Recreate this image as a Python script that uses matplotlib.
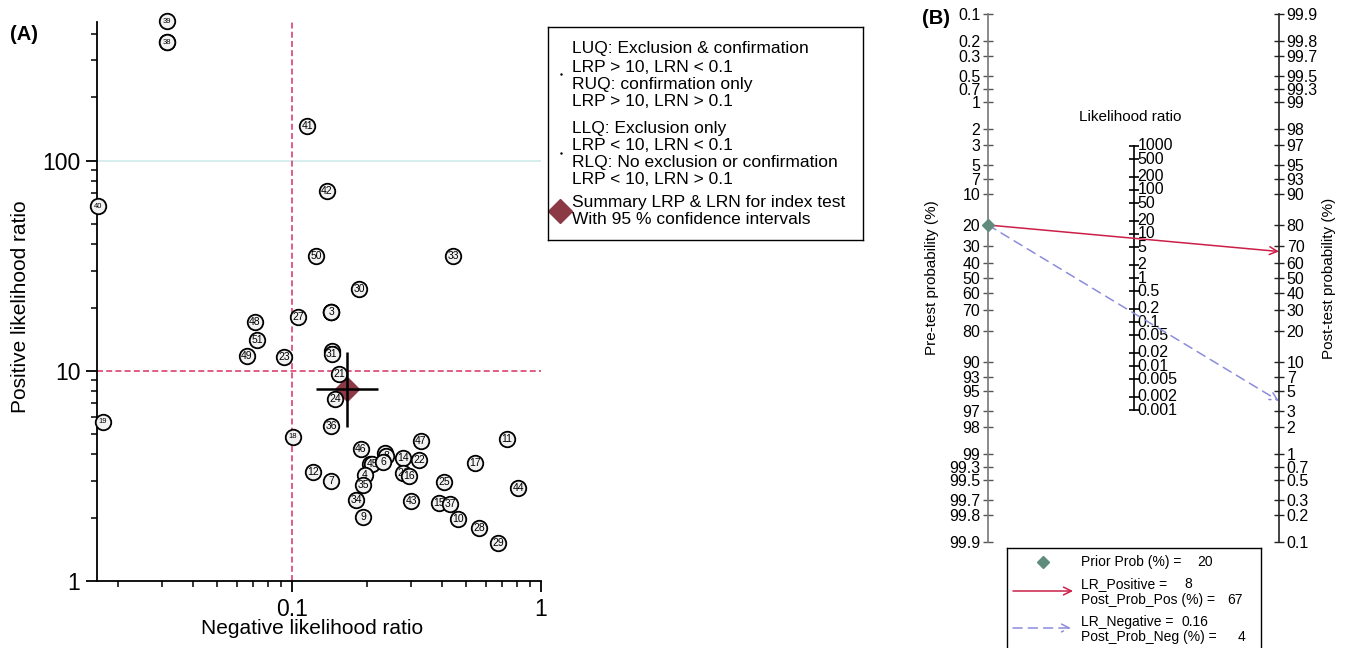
import numpy as np
import matplotlib
matplotlib.use('Agg')
import matplotlib.pyplot as plt
from matplotlib.ticker import FixedLocator, LogLocator, NullFormatter

plt.rcParams['font.family'] = ['Liberation Sans', 'DejaVu Sans']

# ---- (A) study-level likelihood ratios ----
study_id = [20, 38, 39, 40, 41, 42, 50, 33, 30, 1, 2, 3, 27, 48, 51, 49, 23,
            13, 31, 21, 24, 36, 18, 19, 46, 12, 7, 32, 45, 5, 8, 6, 4, 35,
            34, 9, 14, 47, 22, 26, 16, 43, 25, 15, 37, 10, 28, 29, 17, 11, 44]
lrn = [0.0315, 0.0315, 0.0315, 0.0166, 0.115, 0.138, 0.125, 0.443, 0.186,
       0.1435, 0.1435, 0.1435, 0.1057, 0.071, 0.0723, 0.066, 0.0929,
       0.1447, 0.1447, 0.1545, 0.149, 0.1435, 0.1009, 0.0174, 0.189, 0.1214,
       0.1435, 0.2057, 0.2096, 0.2363, 0.2385, 0.232, 0.1965, 0.1928,
       0.1807, 0.1928, 0.279, 0.3296, 0.3236, 0.279, 0.295, 0.3006, 0.4076,
       0.389, 0.431, 0.464, 0.5636, 0.672, 0.543, 0.730, 0.809]
lrp = [366, 366, 462, 60.8, 147, 71.6, 35.2, 35.2, 24.5,
       19.1, 19.1, 19.1, 18.05, 17.1, 14.0, 11.8, 11.65,
       12.45, 12.05, 9.68, 7.36, 5.48, 4.86, 5.73, 4.26, 3.31,
       3.0, 3.62, 3.62, 4.08, 3.95, 3.70, 3.21, 2.87,
       2.44, 2.02, 3.86, 4.65, 3.78, 3.28, 3.17, 2.41, 2.97,
       2.36, 2.33, 1.98, 1.795, 1.51, 3.66, 4.75, 2.78]
small_label = [20, 38, 39, 40, 19, 18]

sum_lrp, sum_lrp_lo, sum_lrp_hi = 8.2, 5.42, 12.3
sum_lrn, sum_lrn_lo, sum_lrn_hi = 0.166, 0.125, 0.2215

quad_lines = ['LUQ: Exclusion & confirmation', 'LRP > 10, LRN < 0.1',
              'RUQ: confirmation only', 'LRP > 10, LRN > 0.1',
              'LLQ: Exclusion only', 'LRP < 10, LRN < 0.1',
              'RLQ: No exclusion or confirmation', 'LRP < 10, LRN > 0.1',
              'Summary LRP & LRN for index test', 'With 95 % confidence intervals']

# ---- (B) Fagan nomogram ----
prior_prob = 20
lr_positive = 8
lr_negative = 0.16
post_pos_txt = '67'
post_neg_txt = '4'
prob_ticks = ['0.1', '0.2', '0.3', '0.5', '0.7', '1', '2', '3', '5', '7', '10',
              '20', '30', '40', '50', '60', '70', '80', '90', '93', '95', '97',
              '98', '99', '99.3', '99.5', '99.7', '99.8', '99.9']
lr_ticks = ['1000', '500', '200', '100', '50', '20', '10', '5', '2', '1', '0.5',
            '0.2', '0.1', '0.05', '0.02', '0.01', '0.005', '0.002', '0.001']

PINK = '#dd4f7a'
MAROON = '#8b3a45'
RED = '#cc1f48'
BLUE = '#8c8cdc'
PRIOR = '#5f8c7c'


def logit(pct):
    p = np.asarray(pct, dtype=float) / 100.0
    return np.log(p / (1 - p))


W, H = 1348, 648
fig = plt.figure(figsize=(W / 100, H / 100), dpi=100)

# ================= panel A =================
axA = fig.add_axes([97 / W, 1 - 581 / H, 444 / W, 559 / H])
axA.set_xscale('log')
axA.set_yscale('log')
axA.set_xlim(10 ** -1.783, 1)
axA.set_ylim(1, 10 ** 2.66)
for s in ('top', 'right'):
    axA.spines[s].set_visible(False)
for s in ('left', 'bottom'):
    axA.spines[s].set_linewidth(1.3)

axA.xaxis.set_major_locator(FixedLocator([0.1, 1]))
axA.set_xticklabels(['0.1', '1'])
axA.yaxis.set_major_locator(FixedLocator([1, 10, 100]))
axA.set_yticklabels(['1', '10', '100'])
axA.xaxis.set_minor_locator(LogLocator(base=10, subs=np.arange(2, 10)))
axA.yaxis.set_minor_locator(LogLocator(base=10, subs=np.arange(2, 10)))
axA.xaxis.set_minor_formatter(NullFormatter())
axA.yaxis.set_minor_formatter(NullFormatter())
axA.tick_params(which='major', length=8, width=1.3, labelsize=16.5, pad=4)
axA.tick_params(which='minor', length=4, width=1.1)

axA.axhline(100, color='#d4ecec', lw=1.3, zorder=1)
axA.axhline(10, color=PINK, lw=1.3, ls=(0, (3.3, 1.8)), zorder=1)
axA.axvline(0.1, color=PINK, lw=1.3, ls=(0, (3.3, 1.8)), zorder=1)

axA.plot(sum_lrn, sum_lrp, 'D', ms=12.5, color=MAROON, zorder=2)

for i, (sid, x, y) in enumerate(zip(study_id, lrn, lrp)):
    z = 3 + 2 * i
    axA.scatter(x, y, s=125, fc='#f2f2f2', ec='black', lw=1.3, zorder=z,
                clip_on=False)
    axA.text(x, y, str(sid), fontsize=5.5 if sid in small_label else 7.5,
             ha='center', va='center', zorder=z + 1, clip_on=False)

axA.errorbar([sum_lrn], [sum_lrp],
             xerr=[[sum_lrn - sum_lrn_lo], [sum_lrn_hi - sum_lrn]],
             yerr=[[sum_lrp - sum_lrp_lo], [sum_lrp_hi - sum_lrp]],
             fmt='none', ecolor='black', elinewidth=1.8, capsize=0, zorder=200)

axA.set_xlabel('Negative likelihood ratio', fontsize=15)
axA.set_ylabel('Positive likelihood ratio', fontsize=15)
axA.xaxis.set_label_coords(0.484, -0.068)
axA.yaxis.set_label_coords(-0.152, 0.49)
fig.text(10 / W, 1 - 35 / H, '(A)', fontsize=14.5, fontweight='bold', va='center')

# legend box of panel A
legA = fig.add_axes([548 / W, 1 - 240 / H, 315 / W, 213 / H])
legA.set_xlim(0, 315)
legA.set_ylim(213, 0)
legA.set_xticks([])
legA.set_yticks([])
for s in legA.spines.values():
    s.set_linewidth(1.0)
row_y = [21, 40, 57, 75, 101, 118, 135, 152, 176, 193]
for txt, yy in zip(quad_lines, row_y):
    legA.text(24, yy, txt, fontsize=12.5, va='center', ha='left')
legA.plot([13, 13], [47, 126], ls='none', marker='.', ms=1.5, color='black')
legA.plot(12, 184, 'D', ms=12, color=MAROON, clip_on=False)

# ================= panel B =================
axB = fig.add_axes([988 / W, 1 - 542 / H, 291 / W, 528 / H])
umax = float(logit(99.9))
axB.set_xlim(0, 1)
axB.set_ylim(-umax, umax)
for s in ('top', 'right', 'bottom'):
    axB.spines[s].set_visible(False)
axB.spines['left'].set_color('#777777')
axB.spines['left'].set_linewidth(1.2)
axB.set_xticks([])
axB.set_yticks(-logit([float(t) for t in prob_ticks]))
axB.set_yticklabels(prob_ticks)
axB.tick_params(axis='y', direction='inout', length=7, width=1.0,
                color='#555555', labelsize=11.5, pad=2)
axB.set_ylabel('Pre-test probability (%)', fontsize=11)
axB.yaxis.set_label_coords(-0.168, 0.5)

ax2 = axB.twinx()
ax2.set_ylim(-umax, umax)
for s in ('top', 'left', 'bottom'):
    ax2.spines[s].set_visible(False)
ax2.spines['right'].set_color('#222222')
ax2.spines['right'].set_linewidth(1.2)
ax2.set_yticks(logit([float(t) for t in prob_ticks]))
ax2.set_yticklabels(prob_ticks)
ax2.tick_params(axis='y', direction='inout', length=7, width=1.0,
                color='#222222', labelsize=11.5, pad=2)
ax2.set_ylabel('Post-test probability (%)', fontsize=11)
ax2.yaxis.set_label_coords(1.148, 0.5)

# middle likelihood-ratio scale
lr_vals = np.array([float(t) for t in lr_ticks])
u_lr = np.log(lr_vals) / 2
axB.plot([0.5, 0.5], [u_lr.min(), u_lr.max()], color='black', lw=1.2)
axB.plot(np.full(len(u_lr), 0.5), u_lr, ls='none', marker='_', ms=7,
         mew=1.2, color='black')
for t, u in zip(lr_ticks, u_lr):
    axB.annotate(t, (0.5, u), xytext=(3, 0), textcoords='offset points',
                 fontsize=11.5, va='center', ha='left')
axB.text(0.49, 0.805, 'Likelihood ratio', transform=axB.transAxes,
         fontsize=11, ha='center', va='center')

u_pre = -float(logit(prior_prob))
u_pos = float(logit(prior_prob)) + np.log(lr_positive)
u_neg = float(logit(prior_prob)) + np.log(lr_negative)
axB.annotate('', xy=(1, u_pos), xytext=(0, u_pre),
             arrowprops=dict(arrowstyle='->', color=RED, lw=1.1,
                             shrinkA=0, shrinkB=0, mutation_scale=14))
axB.annotate('', xy=(1, u_neg), xytext=(0, u_pre),
             arrowprops=dict(arrowstyle='->', color=BLUE, lw=1.1, ls=(0, (6, 4)),
                             shrinkA=0, shrinkB=0, mutation_scale=14))
axB.plot(0, u_pre, 'D', ms=6.5, color=PRIOR, clip_on=False, zorder=5)
fig.text(922 / W, 1 - 18 / H, '(B)', fontsize=14.5, fontweight='bold', va='center')

# legend box of panel B
legB = fig.add_axes([1007 / W, 1 - 658 / H, 254 / W, 110 / H])
legB.set_xlim(0, 254)
legB.set_ylim(110, 0)
legB.set_xticks([])
legB.set_yticks([])
legB.spines['bottom'].set_visible(False)
for s in legB.spines.values():
    s.set_linewidth(1.0)
legB.plot(36, 14, 'D', ms=6.5, color=PRIOR)
legB.annotate('', xy=(66, 43), xytext=(6, 43),
              arrowprops=dict(arrowstyle='->', color=RED, lw=1.1,
                              shrinkA=0, shrinkB=0, mutation_scale=14))
legB.annotate('', xy=(64, 80), xytext=(6, 80),
              arrowprops=dict(arrowstyle='->', color=BLUE, lw=1.1, ls=(0, (6, 4)),
                              shrinkA=0, shrinkB=0, mutation_scale=14))
rows_B = [('Prior Prob (%) =', str(prior_prob), 14, 206),
          ('LR_Positive =', str(lr_positive), 36, 185),
          ('Post_Prob_Pos (%) =', post_pos_txt, 52, 236),
          ('LR_Negative =', f'{lr_negative:.2f}', 74, 201),
          ('Post_Prob_Neg (%) =', post_neg_txt, 89, 238)]
for lab, val, yy, xr in rows_B:
    legB.text(74, yy, lab, fontsize=10, va='center', ha='left')
    legB.text(xr, yy, val, fontsize=10, va='center', ha='right')

fig.savefig('out.png', dpi=100)
